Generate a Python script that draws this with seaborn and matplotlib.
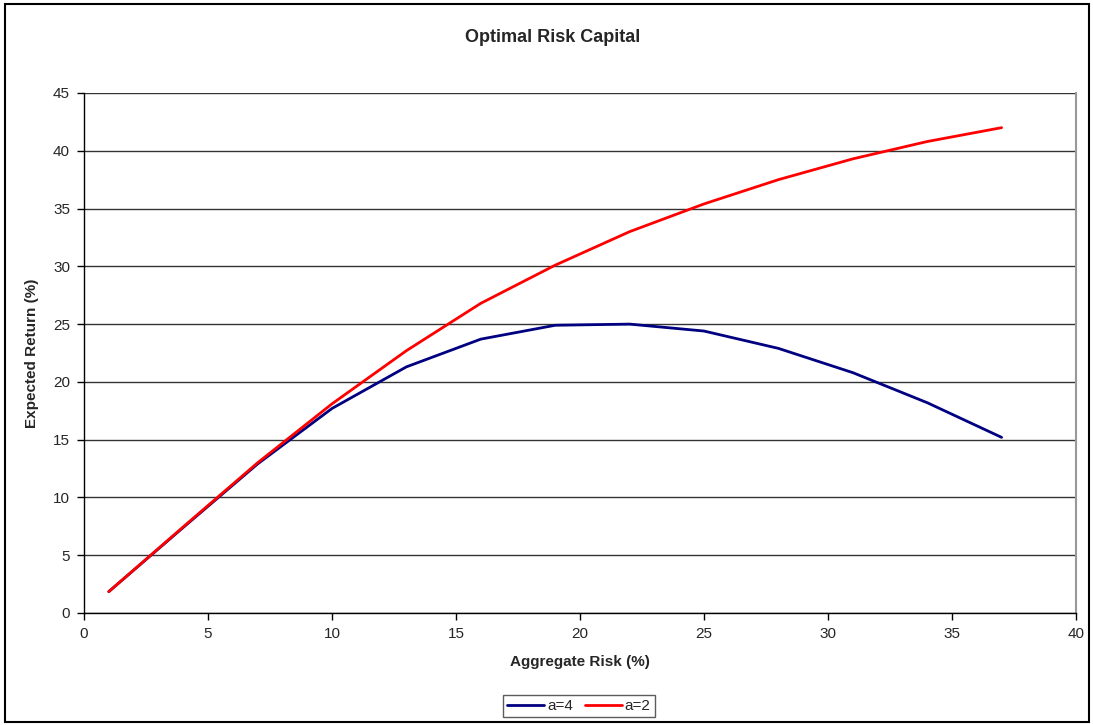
import matplotlib
matplotlib.use("Agg")
import matplotlib.pyplot as plt
import seaborn as sns
import pandas as pd
from matplotlib.patches import Rectangle

risk = [1, 4, 7, 10, 13, 16, 19, 22, 25, 28, 31, 34, 37]
ret_a4 = [1.85, 7.4, 12.9, 17.7, 21.3, 23.7, 24.9, 25.0, 24.4, 22.9, 20.8, 18.2, 15.2]
ret_a2 = [1.85, 7.45, 13.0, 18.1, 22.7, 26.8, 30.1, 33.0, 35.4, 37.5, 39.3, 40.8, 42.0]
series = ["a=4", "a=2"]
colors = ["#000080", "#FF0000"]
x_ticks = list(range(0, 41, 5))
y_ticks = list(range(0, 46, 5))

df = pd.DataFrame({
    "risk": risk * 2,
    "ret": ret_a4 + ret_a2,
    "series": [series[0]] * len(risk) + [series[1]] * len(risk),
})

sns.set_style("white")
plt.rcParams["font.family"] = ["Liberation Sans", "DejaVu Sans"]

fig = plt.figure(figsize=(10.93, 7.25), dpi=100)
ax = fig.add_axes([84 / 1093, 112 / 725, (1076 - 84) / 1093, (613 - 93) / 725])

sns.lineplot(data=df, x="risk", y="ret", hue="series", hue_order=series,
             palette=colors, linewidth=2, ax=ax, legend=False)

ax.set_xlim(0, 40)
ax.set_ylim(0, 45)
ax.set_xticks(x_ticks)
ax.set_yticks(y_ticks)
ax.tick_params(axis="both", labelsize=11, direction="out", length=5, width=1,
               color="black", bottom=True, left=True, pad=5)
ax.yaxis.grid(True, color="#333333", linewidth=1)
ax.set_axisbelow(True)
ax.spines["top"].set_visible(False)
ax.spines["right"].set_color("#999999")
ax.spines["right"].set_linewidth(1.5)
for s in ["left", "bottom"]:
    ax.spines[s].set_color("black")
    ax.spines[s].set_linewidth(1)

ax.set_xlabel("Aggregate Risk (%)", fontsize=11, fontweight="bold", labelpad=10)
ax.set_ylabel("Expected Return (%)", fontsize=11, fontweight="bold", labelpad=10)
fig.text(553 / 1093, 1 - 38 / 725, "Optimal Risk Capital", ha="center", va="center",
         fontsize=13, fontweight="bold")

handles = [plt.Line2D([], [], color=c, linewidth=2) for c in colors]
leg = fig.legend(handles, series, loc="center", bbox_to_anchor=(579 / 1093, 1 - 706 / 725),
                 ncol=2, frameon=True, fancybox=False, fontsize=11, handlelength=2.4,
                 handletextpad=0.2, columnspacing=0.8, borderpad=0.25)
leg.get_frame().set_edgecolor("#333333")
leg.get_frame().set_linewidth(1)

fig.patches.append(Rectangle((5 / 1093, 3 / 725), 1084 / 1093, 718 / 725,
                             transform=fig.transFigure, fill=False,
                             edgecolor="black", linewidth=1.5))

fig.savefig("out.png", dpi=100)
